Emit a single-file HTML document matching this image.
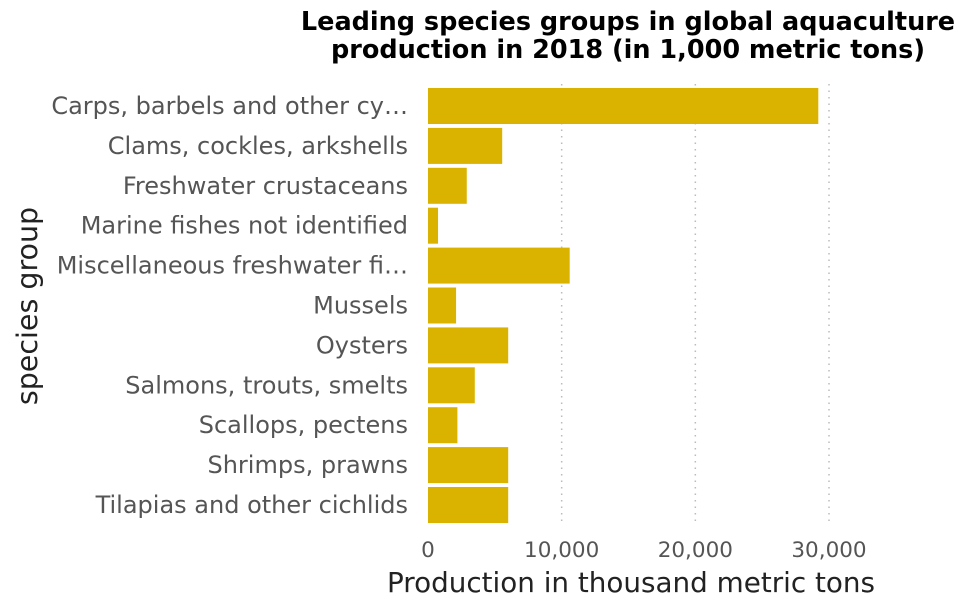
<!DOCTYPE html>
<html><head><meta charset="utf-8"><style>
body{margin:0;background:#fff;}
svg text{font-family:"DejaVu Sans","Liberation Sans",sans-serif;}
</style></head><body>
<svg id="chart" width="970" height="608">
<text x="628" y="30" text-anchor="middle" font-size="25.5" font-weight="bold">Leading species groups in global aquaculture</text>
<text x="628" y="58" text-anchor="middle" font-size="25.5" font-weight="bold">production in 2018 (in 1,000 metric tons)</text>
<g id="grid"></g><g id="bars"></g><g id="ylabels"></g><g id="xticks"></g>
<text x="631" y="592" text-anchor="middle" font-size="27.8" fill="#222">Production in thousand metric tons</text>
<text transform="translate(37,306) rotate(-90)" text-anchor="middle" font-size="28.5" fill="#222">species group</text>
</svg>
<script>
const categories=["Carps, barbels and other cy…","Clams, cockles, arkshells","Freshwater crustaceans","Marine fishes not identified","Miscellaneous freshwater fi…","Mussels","Oysters","Salmons, trouts, smelts","Scallops, pectens","Shrimps, prawns","Tilapias and other cichlids"];
const values=[29200,5550,2900,750,10600,2100,6000,3500,2200,6000,6000];
const ticks=[0,10000,20000,30000];
const tickLabels=["0","10,000","20,000","30,000"];
const NS="http://www.w3.org/2000/svg";
const x=v=>428+v*(829-428)/30000;
const y=i=>106+i*39.9;
function mk(t,a,p){const e=document.createElementNS(NS,t);for(const k in a)e.setAttribute(k,a[k]);p.appendChild(e);return e;}
const g=document.getElementById('grid'),b=document.getElementById('bars'),yl=document.getElementById('ylabels'),xt=document.getElementById('xticks');
ticks.forEach((t,i)=>{
 if(t>0){const l=mk('line',{x1:x(t),x2:x(t),y1:84,y2:526,stroke:'#bbb','stroke-width':1.5,'stroke-dasharray':'1.5,5'},g);
 
 }
 const tx=mk('text',{x:x(t),y:557,'text-anchor':'middle','font-size':21.5,fill:'#555'},xt);tx.textContent=tickLabels[i];
 
 
});
categories.forEach((c,i)=>{
 const r=mk('rect',{x:x(0),y:y(i)-18,width:x(values[i])-x(0),height:36,fill:'#DAB300'},b);
 
 
 const t=mk('text',{x:408,y:y(i)+8,'text-anchor':'end','font-size':24,fill:'#555'},yl);t.textContent=c;
 
 
});
</script>
</body></html>
